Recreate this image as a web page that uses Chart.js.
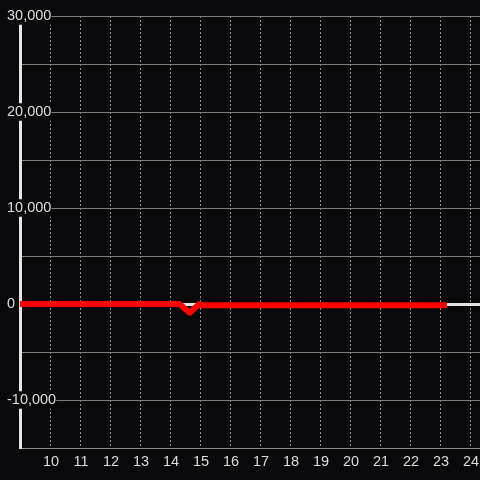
<!DOCTYPE html>
<html>
<head>
<meta charset="utf-8">
<script src="https://cdn.jsdelivr.net/npm/chart.js@4.4.1/dist/chart.umd.min.js"></script>
<style>
  html, body { margin: 0; padding: 0; background: #09090c; }
</style>
</head>
<body>
<canvas id="chart" width="480" height="480"></canvas>
<script>
// signal trace (x in hours-ish units, y in raw counts)
const xValues = [8.85, 14.28, 14.62, 14.95, 15.02, 23.2];
const yValues = [0, 0, -900, 0, -120, -120];

const xTicks = [10, 11, 12, 13, 14, 15, 16, 17, 18, 19, 20, 21, 22, 23, 24];
const yTicks = [-15000, -10000, -5000, 0, 5000, 10000, 15000, 20000, 25000, 30000];
const yLabelled = [-10000, 0, 10000, 20000, 30000];

const bg = '#09090c';
const labelColor = '#dcdcdc';
const font = { family: 'Liberation Sans', size: 14.5 };

const ctx = document.getElementById('chart').getContext('2d');

const chart = new Chart(ctx, {
    type: 'line',
    data: {
        datasets: [{
            data: xValues.map((x, i) => ({ x: x, y: yValues[i] })),
            borderColor: '#ff0000',
            borderWidth: 6,
            borderJoinStyle: 'round',
            pointRadius: 0,
            tension: 0
        }]
    },
    options: {
        responsive: false,
        animation: false,
        devicePixelRatio: 1,
        layout: { padding: { left: 7, top: 16, right: 0, bottom: 0 } },
        plugins: {
            legend: { display: false },
            tooltip: { enabled: false }
        },
        scales: {
            x: {
                type: 'linear',
                position: 'bottom',
                min: 8.967,
                max: 24.3,
                afterBuildTicks: s => { s.ticks = xTicks.map(v => ({ value: v })); },
                afterFit: s => { s.height = 32; s.paddingLeft = 0; s.paddingRight = 0; },
                ticks: {
                    color: labelColor,
                    font: font,
                    padding: 5,
                    maxRotation: 0,
                    autoSkip: false
                },
                grid: { color: '#909090', lineWidth: 1, drawTicks: false },
                border: { color: '#8c8c8c', width: 1, dash: [2, 2] }
            },
            y: {
                type: 'linear',
                min: -15000,
                max: 30000,
                afterBuildTicks: s => { s.ticks = yTicks.map(v => ({ value: v })); },
                afterFit: s => { s.width = 13; s.paddingTop = 0; s.paddingBottom = 0; },
                ticks: {
                    mirror: true,
                    crossAlign: 'near',
                    padding: -13,
                    color: labelColor,
                    font: font,
                    showLabelBackdrop: true,
                    backdropColor: bg,
                    backdropPadding: 0,
                    callback: v => yLabelled.includes(v) ? v.toLocaleString('en-US') : ''
                },
                grid: {
                    drawTicks: false,
                    color: c => (c.tick && c.tick.value === 0) ? '#e4e4e4' : '#7c7c7c',
                    lineWidth: c => (c.tick && c.tick.value === 0) ? 3 : 1
                },
                border: { color: '#e4e4e4', width: 3 }
            }
        }
    }
});
</script>
</body>
</html>
